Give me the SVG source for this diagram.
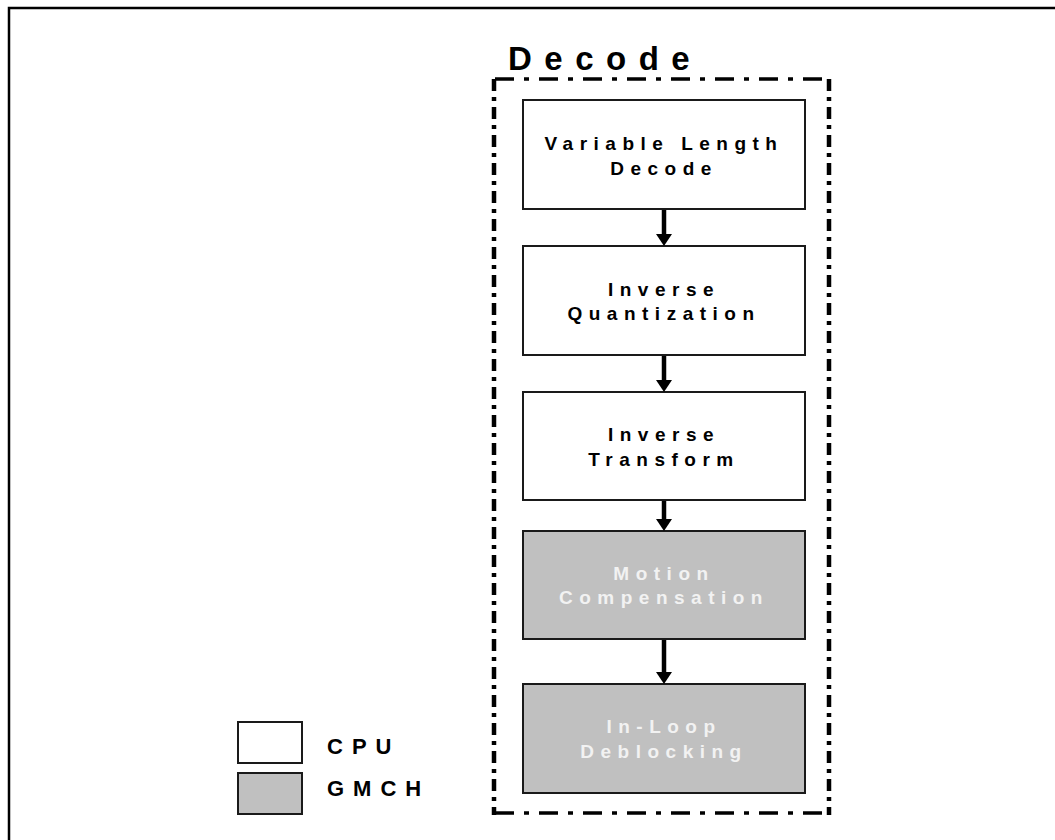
<svg xmlns="http://www.w3.org/2000/svg" width="1055" height="840" viewBox="0 0 1055 840">
  <style>
    .box { stroke: #1a1a1a; stroke-width: 2; }
    .cpu { fill: #ffffff; }
    .gmch { fill: #c0c0c0; }
    .lbl { font-family: "Liberation Sans", Arial, sans-serif; font-weight: bold; font-size: 19px; letter-spacing: 6.5px; text-anchor: middle; }
    .dark { fill: #000000; }
    .light { fill: #f2f2f2; }
    .legend { font-family: "Liberation Sans", Arial, sans-serif; font-weight: bold; font-size: 22px; letter-spacing: 9px; fill: #000; }
    .shaft { stroke: #000; stroke-width: 4.5; }
    .hz { stroke: #000; stroke-width: 3.5; fill: none; stroke-dasharray: 19 10 5 10; }
    .vt { stroke: #000; stroke-width: 4.5; fill: none; stroke-dasharray: 12 6 4 6; }
  </style>
  <rect width="1055" height="840" fill="#ffffff"/>
  <g id="frame">
    <path d="M1055 8 H9 V840" fill="none" stroke="#000" stroke-width="2.5"/>
  </g>
  <g id="decode-group">
    <line class="hz" x1="495" y1="79" x2="830" y2="79"/>
    <line class="hz" x1="495" y1="813" x2="830" y2="813"/>
    <line class="vt" x1="494" y1="79" x2="494" y2="815"/>
    <line class="vt" x1="829" y1="79" x2="829" y2="815"/>
    <text x="508" y="70" font-family="Liberation Sans, Arial, sans-serif" font-weight="bold" font-size="33" letter-spacing="12.5" fill="#000">Decode</text>
  </g>
  <g id="vld">
    <rect class="box cpu" x="523" y="100" width="282" height="109"/>
    <text class="lbl dark" x="664" y="150">Variable Length</text>
    <text class="lbl dark" x="664" y="175">Decode</text>
  </g>
  <g id="iq">
    <rect class="box cpu" x="523" y="246" width="282" height="109"/>
    <text class="lbl dark" x="664" y="296">Inverse</text>
    <text class="lbl dark" x="664" y="320">Quantization</text>
  </g>
  <g id="it">
    <rect class="box cpu" x="523" y="392" width="282" height="108"/>
    <text class="lbl dark" x="664" y="441">Inverse</text>
    <text class="lbl dark" x="664" y="466">Transform</text>
  </g>
  <g id="mc">
    <rect class="box gmch" x="523" y="531" width="282" height="108"/>
    <text class="lbl light" x="664" y="580">Motion</text>
    <text class="lbl light" x="664" y="604">Compensation</text>
  </g>
  <g id="ild">
    <rect class="box gmch" x="523" y="684" width="282" height="109"/>
    <text class="lbl light" x="664" y="733">In-Loop</text>
    <text class="lbl light" x="664" y="758">Deblocking</text>
  </g>
  <g id="connectors">
    <line class="shaft" x1="664" y1="210" x2="664" y2="236"/>
    <polygon points="656,234 672,234 664,246"/>
    <line class="shaft" x1="664" y1="356" x2="664" y2="382"/>
    <polygon points="656,380 672,380 664,392"/>
    <line class="shaft" x1="664" y1="501" x2="664" y2="521"/>
    <polygon points="656,519 672,519 664,531"/>
    <line class="shaft" x1="664" y1="640" x2="664" y2="674"/>
    <polygon points="656,672 672,672 664,684"/>
  </g>
  <g id="legend-cpu">
    <rect class="box cpu" x="238" y="722" width="64" height="41"/>
    <text class="legend" x="327" y="754">CPU</text>
  </g>
  <g id="legend-gmch">
    <rect class="box gmch" x="238" y="773" width="64" height="41"/>
    <text class="legend" x="327" y="796">GMCH</text>
  </g>
</svg>
